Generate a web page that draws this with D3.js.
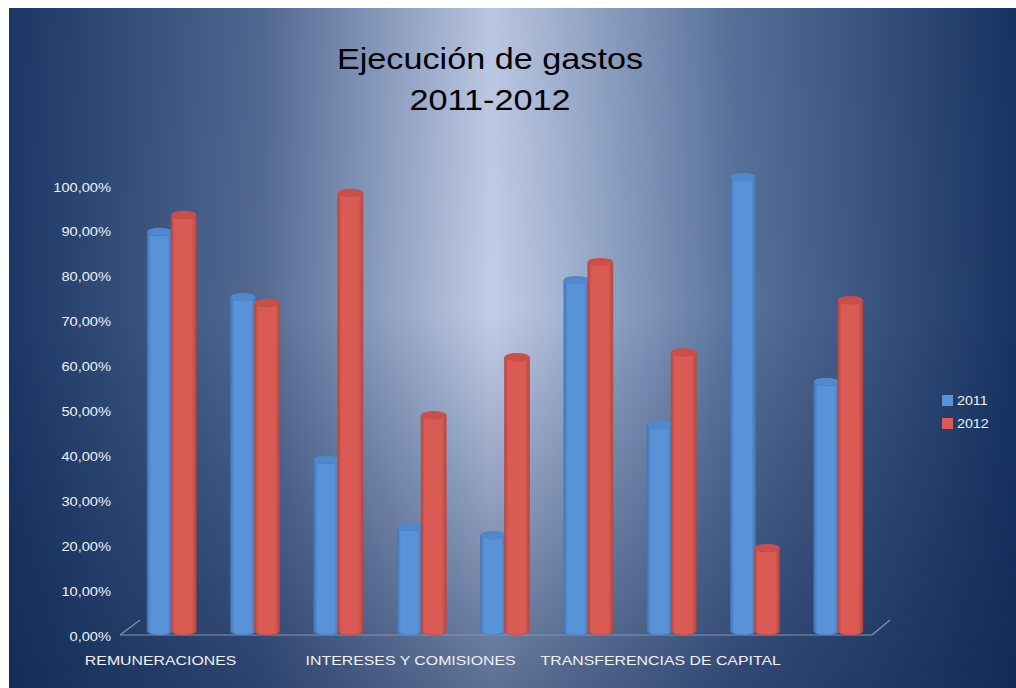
<!DOCTYPE html>
<html>
<head>
<meta charset="utf-8">
<script src="https://cdn.jsdelivr.net/npm/d3@7"></script>
<style>
  body { margin: 0; background: #fff; }
  svg { display: block; }
  text { font-family: "Liberation Sans", Arial, sans-serif; }
</style>
</head>
<body>
<div id="chart"></div>
<script>
// datos del grafico
var categorias = ["REMUNERACIONES", "BIENES Y SERVICIOS", "TRANSFERENCIAS CORRIENTES",
  "INTERESES Y COMISIONES", "AMORTIZACIÓN DE LA DEUDA", "INVERSIONES",
  "TRANSFERENCIAS DE CAPITAL", "OTROS GASTOS CORRIENTES", "OTROS GASTOS DE CAPITAL"];
var anios = ["2011", "2012"];
var ejec2011 = [88.9, 74.4, 38.1, 23.2, 21.4, 78.2, 45.9, 101.1, 55.5];
var ejec2012 = [92.7, 73.1, 97.6, 48.1, 61.0, 82.2, 62.1, 18.5, 73.7];
var ticksY = [0, 10, 20, 30, 40, 50, 60, 70, 80, 90, 100];
var titulo = ["Ejecución de gastos", "2011-2012"];

var width = 1016, height = 688;
var stretch = 1.17; // el original esta estirado en horizontal

var svg = d3.select("#chart").append("svg")
  .attr("width", width).attr("height", height);

var defs = svg.append("defs");

// fondo
var gH = defs.append("linearGradient").attr("id", "bgH")
  .attr("x1", 0).attr("x2", 1).attr("y1", 0).attr("y2", 0);
gH.append("stop").attr("offset", 0).attr("stop-color", "#1c3866");
gH.append("stop").attr("offset", 0.25).attr("stop-color", "#536a93");
gH.append("stop").attr("offset", 0.48).attr("stop-color", "#c2cee8");
gH.append("stop").attr("offset", 0.72).attr("stop-color", "#5a739c");
gH.append("stop").attr("offset", 1).attr("stop-color", "#173462");

var gV = defs.append("linearGradient").attr("id", "bgV")
  .attr("x1", 0).attr("x2", 0).attr("y1", 0).attr("y2", 1);
gV.append("stop").attr("offset", 0).attr("stop-color", "#0c2450").attr("stop-opacity", 0.05);
gV.append("stop").attr("offset", 0.45).attr("stop-color", "#0c2450").attr("stop-opacity", 0);
gV.append("stop").attr("offset", 1).attr("stop-color", "#0c2450").attr("stop-opacity", 0.55);

svg.append("rect").attr("x", 9).attr("y", 8).attr("width", width - 9).attr("height", height - 8)
  .attr("fill", "url(#bgH)");
svg.append("rect").attr("x", 9).attr("y", 8).attr("width", width - 9).attr("height", height - 8)
  .attr("fill", "url(#bgV)");

// gradientes de los cilindros
var colores = {
  "2011": { base: "#5892d7", dark: "#4675b8", top: "#4f88cd" },
  "2012": { base: "#da5b53", dark: "#b9463f", top: "#cb4e48" }
};
anios.forEach(function(a) {
  var g = defs.append("linearGradient").attr("id", "cyl" + a)
    .attr("x1", 0).attr("x2", 1).attr("y1", 0).attr("y2", 0);
  g.append("stop").attr("offset", 0).attr("stop-color", colores[a].dark);
  g.append("stop").attr("offset", 0.15).attr("stop-color", colores[a].base);
  g.append("stop").attr("offset", 0.82).attr("stop-color", colores[a].base);
  g.append("stop").attr("offset", 1).attr("stop-color", colores[a].dark);
});

// escalas
var y = d3.scaleLinear().domain([0, 100]).range([636, 187]);
var x = d3.scaleBand().domain(categorias).range([130, 880])
  .paddingInner(0.4).paddingOuter(0.2);
var xs = d3.scaleBand().domain(anios).range([0, x.bandwidth()]);
var depth = 5; // desplazamiento del suelo 3D

function estirar(sel, f) {
  sel.each(function() {
    var w = this.getComputedTextLength();
    d3.select(this).attr("textLength", w * f).attr("lengthAdjust", "spacingAndGlyphs");
  });
}

// titulo
var tit = svg.append("g");
tit.selectAll("text").data(titulo).enter().append("text")
  .attr("x", 490).attr("y", function(d, i) { return 69 + i * 41; })
  .attr("text-anchor", "middle")
  .attr("font-size", 30).attr("fill", "#000")
  .text(function(d) { return d; })
  .call(estirar, 1.14);

// suelo
var piso = svg.append("g").attr("stroke", "#8593ad").attr("stroke-width", 1.2).attr("fill", "none");
piso.append("line").attr("x1", 120).attr("y1", y(0) - 1).attr("x2", 872).attr("y2", y(0) - 1);
piso.append("line").attr("x1", 120).attr("y1", y(0) - 1).attr("x2", 140).attr("y2", y(0) - 16);
piso.append("line").attr("x1", 872).attr("y1", y(0) - 1).attr("x2", 890).attr("y2", y(0) - 16);

// eje y
var fmt = d3.formatLocale({ decimal: ",", thousands: ".", grouping: [3], currency: ["", ""] }).format(".2f");
var ejeY = svg.append("g").attr("transform", "translate(111,0)")
  .call(d3.axisLeft(y).tickValues(ticksY).tickSize(0).tickPadding(0)
    .tickFormat(function(d) { return fmt(d) + "%"; }));
ejeY.select(".domain").remove();
ejeY.selectAll("text").attr("font-size", 12.5).attr("fill", "#eef1f6")
  .attr("font-family", "Liberation Sans, Arial, sans-serif")
  .call(estirar, stretch);

// cilindros
var ry = 4;
function cilindro(x0, x1, yTop, yBot) {
  var rx = (x1 - x0) / 2;
  return "M" + x0 + "," + yTop + "L" + x0 + "," + yBot +
    "A" + rx + "," + ry + " 0 0 0 " + x1 + "," + yBot +
    "L" + x1 + "," + yTop + "A" + rx + "," + ry + " 0 0 1 " + x0 + "," + yTop + "Z";
}

var series = { "2011": ejec2011, "2012": ejec2012 };
var grupos = svg.selectAll("g.cat").data(categorias).enter().append("g")
  .attr("class", "cat")
  .attr("transform", function(d) { return "translate(" + x(d) + ",0)"; });

anios.forEach(function(a) {
  var bar = grupos.append("g").datum(function(d, i) { return series[a][i]; });
  var x0 = xs(a) + (a === "2011" ? 0.5 : -0.5);
  var x1 = x0 + xs.bandwidth();
  bar.append("path")
    .attr("d", function(v) { return cilindro(x0, x1, y(v) - depth, y(0) - depth); })
    .attr("fill", "url(#cyl" + a + ")")
    .attr("stroke", colores[a].dark).attr("stroke-width", 0.6);
  bar.append("ellipse")
    .attr("cx", (x0 + x1) / 2).attr("cy", function(v) { return y(v) - depth; })
    .attr("rx", (x1 - x0) / 2).attr("ry", ry)
    .attr("fill", colores[a].top);
});

// etiquetas de categorias (solo una de cada tres, como en el original)
svg.append("g").selectAll("text")
  .data(categorias.filter(function(d, i) { return i % 3 === 0; }))
  .enter().append("text")
  .attr("x", function(d) { return x(d) + x.bandwidth() / 2 - 11; })
  .attr("y", 665)
  .attr("text-anchor", "middle")
  .attr("font-size", 13).attr("fill", "#eef1f6")
  .text(function(d) { return d; })
  .call(estirar, 1.22);

// leyenda
var ley = svg.append("g").attr("transform", "translate(942,395)");
var items = ley.selectAll("g").data(anios).enter().append("g")
  .attr("transform", function(d, i) { return "translate(0," + i * 23 + ")"; });
items.append("rect").attr("width", 11).attr("height", 11)
  .attr("fill", function(d) { return colores[d].base; });
items.append("text").attr("x", 15).attr("y", 10)
  .attr("font-size", 12.5).attr("fill", "#eef1f6")
  .text(function(d) { return d; })
  .call(estirar, 1.14);
</script>
</body>
</html>
